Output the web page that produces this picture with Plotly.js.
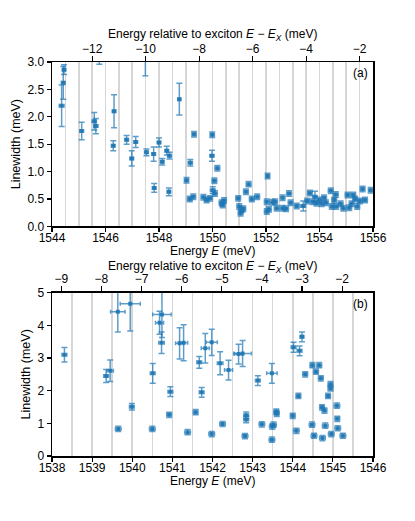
<!DOCTYPE html>
<html>
<head>
<meta charset="utf-8">
<script src="https://cdn.plot.ly/plotly-3.0.1.min.js"></script>
<style>html,body{margin:0;padding:0;background:#fff;}#plot{width:415px;height:521px;}</style>
</head>
<body>
<div id="plot"></div>
<script>
// Exciton energies (meV)
const excitonA = 1557.5;
const excitonB = 1547.23;

// Panel (a)
const energyA = [1544.45,1544.42,1544.36,1545.11,1545.58,1545.64,1545.77,1546.32,1546.29,1546.79,1547.13,1546.98,1547.49,1547.53,1547.80,1548.00,1548.12,1548.29,1548.39,1547.82,1548.37,1548.76,1549.31,1549.17,1549.03,1549.15,1549.28,1549.66,1549.78,1549.99,1549.98,1550.18,1550.07,1550.01,1550.09,1549.91,1550.34,1550.43,1550.38,1550.96,1551.00,1551.09,1551.05,1551.15,1551.25,1551.35,1551.47,1551.67,1552.06,1552.03,1552.03,1552.11,1552.24,1552.34,1552.40,1552.62,1552.62,1552.75,1552.86,1552.92,1553.15,1553.39,1553.54,1553.64,1553.83,1553.75,1553.89,1553.99,1554.08,1554.17,1554.24,1554.42,1554.46,1554.61,1554.55,1554.62,1554.79,1554.89,1555.05,1555.11,1555.20,1555.26,1555.33,1555.41,1555.51,1555.61,1555.70,1555.91];
const widthA = [2.86,2.62,2.20,1.74,1.92,1.83,3.10,2.10,1.47,1.58,1.54,1.24,3.20,1.35,1.32,1.53,1.18,1.38,1.29,0.70,0.63,2.32,1.68,1.16,0.84,0.50,0.54,0.53,0.48,1.67,1.29,1.06,0.83,0.66,0.60,0.51,0.43,0.47,0.39,0.51,0.36,0.30,0.24,0.32,0.63,0.77,0.50,0.54,0.92,0.45,0.27,0.31,0.44,0.45,0.33,0.33,0.52,0.32,0.60,0.43,0.37,0.37,0.46,0.61,0.54,0.45,0.42,0.48,0.41,0.52,0.43,0.65,0.36,0.58,0.48,0.36,0.41,0.33,0.57,0.34,0.41,0.57,0.50,0.36,0.46,0.68,0.48,0.66];
const widthErrA = [0.09,0.30,0.38,0.16,0.16,0.14,0.14,0.30,0.09,0.08,0.10,0.14,0.45,0.06,0.13,0.08,0.06,0.08,0.06,0.08,0.07,0.29,0.05,0.06,0.05,0.05,0.05,0.05,0.05,0.05,0.10,0.05,0.05,0.06,0.05,0.05,0.05,0.05,0.05,0.05,0.05,0.05,0.05,0.05,0.05,0.05,0.05,0.05,0.05,0.05,0.05,0.05,0.05,0.05,0.05,0.05,0.05,0.05,0.05,0.05,0.05,0.09,0.05,0.05,0.10,0.05,0.05,0.05,0.05,0.05,0.05,0.05,0.05,0.05,0.05,0.05,0.05,0.05,0.05,0.05,0.05,0.05,0.05,0.05,0.05,0.05,0.05,0.05];
const energyErrA = [0.07,0.07,0.09,0.07,0.08,0.08,0.07,0.07,0.07,0.07,0.07,0.07,0.06,0.07,0.07,0.07,0.07,0.07,0.07,0.07,0.07,0.06,0.08,0.08,0.08,0.09,0.09,0.09,0.09,0.08,0.08,0.09,0.09,0.09,0.09,0.09,0.09,0.09,0.09,0.09,0.09,0.09,0.09,0.09,0.09,0.09,0.09,0.09,0.08,0.09,0.09,0.09,0.09,0.09,0.09,0.09,0.09,0.09,0.09,0.09,0.09,0.09,0.09,0.09,0.09,0.09,0.09,0.09,0.09,0.09,0.09,0.09,0.09,0.09,0.09,0.09,0.09,0.09,0.09,0.09,0.09,0.09,0.09,0.09,0.09,0.09,0.09,0.08];

// Panel (b)
const energyB = [1538.31,1539.35,1539.45,1539.64,1539.95,1540.74,1540.68,1540.73,1540.51,1541.18,1541.28,1541.67,1541.82,1539.99,1539.65,1540.50,1540.95,1540.92,1541.38,1541.58,1541.73,1541.98,1541.98,1542.19,1542.40,1542.75,1542.65,1543.13,1543.48,1544.02,1544.17,1544.23,1544.31,1544.49,1544.66,1544.58,1544.70,1544.94,1544.94,1544.88,1544.14,1545.10,1544.73,1544.79,1545.11,1544.81,1545.12,1544.48,1544.96,1545.25,1544.74,1544.53,1544.09,1544.00,1543.59,1543.60,1543.52,1543.49,1543.48,1543.23,1542.84,1542.84,1542.81,1542.25];
const widthB = [3.10,2.45,2.61,4.42,4.66,4.33,4.08,3.47,2.53,3.45,3.47,2.87,3.30,1.51,0.83,0.83,1.97,1.26,0.73,1.34,1.95,0.67,3.48,2.84,2.63,3.14,3.12,2.31,2.53,3.33,3.22,3.65,2.50,2.78,2.78,2.58,2.38,2.20,2.07,1.84,1.84,1.54,1.49,1.39,1.14,0.93,0.85,0.96,0.67,0.62,0.55,0.62,0.77,1.23,1.36,1.29,0.96,0.90,0.50,0.97,1.25,1.12,0.61,0.98];
const widthErrB = [0.22,0.20,0.33,0.62,0.83,0.70,0.35,0.33,0.30,0.48,0.55,0.18,0.45,0.10,0.08,0.08,0.15,0.08,0.08,0.08,0.15,0.08,0.40,0.35,0.30,0.40,0.30,0.15,0.30,0.15,0.15,0.15,0.08,0.08,0.08,0.08,0.08,0.08,0.08,0.08,0.08,0.08,0.08,0.08,0.08,0.08,0.08,0.08,0.08,0.08,0.08,0.08,0.08,0.08,0.08,0.08,0.08,0.08,0.08,0.08,0.10,0.10,0.08,0.08];
const energyErrB = [0.06,0.06,0.08,0.18,0.25,0.23,0.10,0.07,0.06,0.10,0.10,0.06,0.10,0.06,0.07,0.07,0.06,0.06,0.07,0.06,0.06,0.07,0.14,0.07,0.10,0.22,0.10,0.06,0.13,0.06,0.06,0.05,0.06,0.06,0.06,0.06,0.06,0.06,0.06,0.06,0.06,0.07,0.06,0.06,0.06,0.07,0.07,0.07,0.07,0.07,0.07,0.07,0.07,0.06,0.06,0.06,0.07,0.07,0.07,0.07,0.06,0.06,0.07,0.07];

const rangeA = [1544, 1556];
const rangeB = [1538, 1546];
const yTicksA = [0, 0.5, 1.0, 1.5, 2.0, 2.5, 3.0];
const yTicksB = [0, 1, 2, 3, 4, 5];
const topTicksA = [-12, -10, -8, -6, -4, -2];
const topTicksB = [-9, -8, -7, -6, -5, -4, -3, -2];

const blue = 'rgba(31,119,180,0.9)';
const errBlue = 'rgba(31,119,180,0.72)';
const FONT = '"Liberation Sans", Arial, sans-serif';

function pts(x, y, ex, ey, xa, ya) {
  return {
    type: 'scatter', mode: 'markers', x: x, y: y, xaxis: xa, yaxis: ya,
    marker: {symbol: 'square', size: 4, color: blue},
    error_y: {type: 'data', array: ey, visible: true, color: errBlue, thickness: 1.5, width: 3},
    error_x: {type: 'data', array: ex, visible: true, color: errBlue, thickness: 1.5, width: 2},
    showlegend: false, hoverinfo: 'skip', cliponaxis: true
  };
}
function dummy(range, xa, ya) {
  return {type: 'scatter', mode: 'markers', x: range, y: [0, 0], xaxis: xa, yaxis: ya,
    marker: {opacity: 0}, showlegend: false, hoverinfo: 'skip'};
}

const data = [
  pts(energyA, widthA, energyErrA, widthErrA, 'x', 'y'),
  dummy([rangeA[0] - excitonA, rangeA[1] - excitonA], 'x2', 'y'),
  pts(energyB, widthB, energyErrB, widthErrB, 'x3', 'y3'),
  dummy([rangeB[0] - excitonB, rangeB[1] - excitonB], 'x4', 'y3')
];

const tickFont = {family: FONT, size: 12, color: '#000'};
const titleFont = {family: FONT, size: 12, color: '#000'};
const relTitle = 'Energy relative to exciton <i>E</i> − <i>E</i><sub><i>X</i></sub> (meV)';
const botTitle = 'Energy <i>E</i> (meV)';

function bottomAxis(range, dtick, anchor) {
  return {
    anchor: anchor, range: range, dtick: dtick, tick0: range[0],
    ticks: 'outside', ticklen: 4, tickwidth: 1.2, tickcolor: '#000',
    ticklabelstandoff: -4,
    showline: true, linecolor: '#000', linewidth: 1.5, mirror: false,
    showgrid: true, gridcolor: '#d6d6d6', gridwidth: 1.6,
    minor: {dtick: 0.5, tick0: range[0], showgrid: true, gridcolor: '#d6d6d6', gridwidth: 1.6, ticks: ''},
    zeroline: false, tickfont: tickFont
  };
}
function topAxis(overlay, anchor, range, tickvals) {
  return {
    overlaying: overlay, anchor: anchor, side: 'top', range: range,
    tickvals: tickvals, ticks: 'outside', ticklen: 5, tickwidth: 1.2, tickcolor: '#000',
    ticklabelstandoff: -2,
    showline: true, linecolor: '#000', linewidth: 1.5,
    showgrid: false, zeroline: false, tickfont: tickFont
  };
}
function leftAxis(domain, range, tickvals, fmt, anchor) {
  return {
    domain: domain, anchor: anchor, range: range, tickvals: tickvals, tickformat: fmt,
    ticks: 'outside', ticklen: 4, tickwidth: 1.2, tickcolor: '#000',
    showline: true, linecolor: '#000', linewidth: 1.5, mirror: true,
    showgrid: false, zeroline: false, tickfont: tickFont,
    title: {text: 'Linewidth (meV)', font: {family: FONT, size: 12.5, color: '#000'}, standoff: 4}
  };
}
function titleNote(text, y) {
  return {text: text, xref: 'paper', yref: 'paper', x: 0.5, y: y, xanchor: 'center', yanchor: 'middle',
    showarrow: false, font: titleFont};
}

const layout = {
  width: 415, height: 521,
  margin: {l: 52, r: 42, t: 62, b: 65},
  paper_bgcolor: '#fff', plot_bgcolor: '#fff',
  font: {family: FONT, color: '#000'},
  xaxis: bottomAxis(rangeA, 2, 'y'),
  xaxis2: topAxis('x', 'y', [rangeA[0] - excitonA, rangeA[1] - excitonA], topTicksA),
  yaxis: leftAxis([0.583, 1], [0, 3], yTicksA, '.1f', 'x'),
  xaxis3: bottomAxis(rangeB, 1, 'y3'),
  xaxis4: topAxis('x3', 'y3', [rangeB[0] - excitonB, rangeB[1] - excitonB], topTicksB),
  yaxis3: leftAxis([0, 0.4145], [0, 5], yTicksB, 'd', 'x3'),
  annotations: [
    titleNote(relTitle, 1.0685),
    titleNote(botTitle, 0.5205),
    titleNote(relTitle, 0.4797),
    titleNote(botTitle, -0.0625),
    {text: '(a)', xref: 'x domain', yref: 'y domain', x: 0.99, y: 0.985, xanchor: 'right', yanchor: 'top', showarrow: false, font: {family: FONT, size: 12, color: '#000'}},
    {text: '(b)', xref: 'x3 domain', yref: 'y3 domain', x: 0.99, y: 0.985, xanchor: 'right', yanchor: 'top', showarrow: false, font: {family: FONT, size: 12, color: '#000'}}
  ]
};

Plotly.newPlot('plot', data, layout, {staticPlot: true, displayModeBar: false});
</script>
</body>
</html>
